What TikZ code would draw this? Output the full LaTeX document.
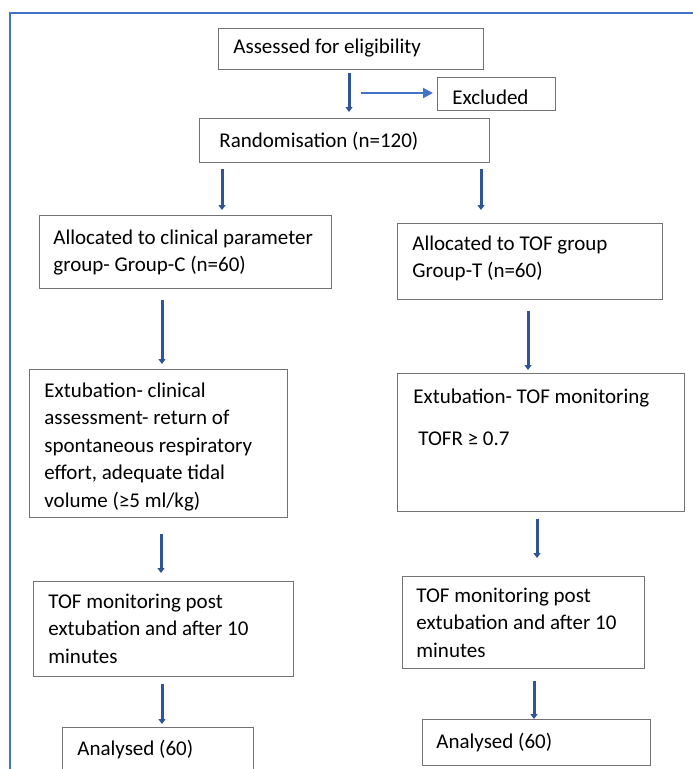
\documentclass[tikz,border=0pt]{standalone}
\usepackage{fontspec}
\setmainfont{Carlito}
\usepackage{xcolor}
\usetikzlibrary{arrows.meta}

\definecolor{arrowblue}{RGB}{47,85,151}
\definecolor{lightblue}{RGB}{68,114,196}
\definecolor{frameblue}{RGB}{68,114,196}

\begin{document}
\begin{tikzpicture}[
    x=1pt, y=-1pt,
    box/.style={
        rectangle,
        draw=black!55,
        line width=0.8pt,
        anchor=north west,
        inner xsep=15pt,
        inner ysep=0pt,
        align=flush left,
        font=\fontsize{21}{27.5}\selectfont
    },
    flow/.style={-{Triangle[width=7pt,length=5pt]}, line width=3pt, arrowblue},
    sideflow/.style={-{Triangle[width=10pt,length=10pt]}, line width=2pt, lightblue}
]

\useasboundingbox (0,0) rectangle (693,769);
\clip (0,0) rectangle (693,769);

% Outer frame
\draw[frameblue, line width=1.3pt] (10,769) -- (10,13) -- (693,13);

% Top boxes
\node[box, text width=235pt, text height=25pt, text depth=16pt] (assess) at (218,28) {
Assessed for eligibility
};

\node[box, text width=88pt, text height=27pt, text depth=6pt] (excl) at (437,77) {
Excluded
};

\node[box, inner xsep=20pt, text width=250pt, text height=29pt, text depth=15pt] (rand) at (199,118) {
Randomisation (n=120)
};

% Group-C column
\node[box, inner xsep=14pt, text width=264pt, text height=29pt, text depth=44pt] (allocC) at (39,215) {
Allocated to clinical parameter\\
group- Group-C (n=60)
};

\node[box, text width=228pt, text height=28pt, text depth=120pt] (extC) at (29,369) {
Extubation- clinical\\
assessment- return of\\
spontaneous respiratory\\
effort, adequate tidal\\
volume (≥5 ml/kg)
};

\node[box, text width=230pt, text height=27pt, text depth=68pt] (tofC) at (33,581) {
TOF monitoring post\\
extubation and after 10\\
minutes
};

\node[box, text width=161pt, text height=28pt, text depth=40pt] (anC) at (62,727) {
Analysed (60)
};

% Group-T column
\node[box, text width=235pt, text height=27pt, text depth=49pt] (allocT) at (397,223) {
Allocated to TOF group\\
Group-T (n=60)
};

\node[box, inner xsep=16pt, text width=255pt, text height=30pt, text depth=108pt] (extT) at (397,373) {
Extubation- TOF monitoring\\[14.5pt]
\hspace*{5pt}TOFR ≥ 0.7
};

\node[box, inner xsep=14pt, text width=214pt, text height=26pt, text depth=66pt] (tofT) at (402,576) {
TOF monitoring post\\
extubation and after 10\\
minutes
};

\node[box, inner xsep=14pt, text width=200pt, text height=29pt, text depth=17pt] (anT) at (422,719) {
Analysed (60)
};

% Arrow columns
\coordinate (c1) at (349,0);
\coordinate (c2) at (222,0);
\coordinate (c3) at (481,0);
\coordinate (c4) at (162,0);
\coordinate (c5) at (528,0);
\coordinate (c6) at (161,0);
\coordinate (c7) at (537,0);
\coordinate (c8) at (162,0);
\coordinate (c9) at (534,0);
\coordinate (exStart) at (361,93);

% Arrows
\draw[flow, shorten <=3pt, shorten >=6pt] (assess.south -| c1) -- (rand.north -| c1);
\draw[sideflow, shorten >=4pt] (exStart) -- (excl.west |- exStart);
\draw[flow, shorten <=6pt, shorten >=5pt] (rand.south -| c2) -- (allocC.north -| c2);
\draw[flow, shorten <=6pt, shorten >=13pt] (rand.south -| c3) -- (allocT.north -| c3);
\draw[flow, shorten <=11pt, shorten >=5pt] (allocC.south -| c4) -- (extC.north -| c4);
\draw[flow, shorten <=11pt, shorten >=3pt] (allocT.south -| c5) -- (extT.north -| c5);
\draw[flow, shorten <=16pt, shorten >=8pt] (extC.south -| c6) -- (tofC.north -| c6);
\draw[flow, shorten <=7pt, shorten >=18pt] (extT.south -| c7) -- (tofT.north -| c7);
\draw[flow, shorten <=7pt, shorten >=3pt] (tofC.south -| c8) -- (anC.north -| c8);
\draw[flow, shorten <=12pt, shorten >=0pt] (tofT.south -| c9) -- (anT.north -| c9);

\end{tikzpicture}
\end{document}
